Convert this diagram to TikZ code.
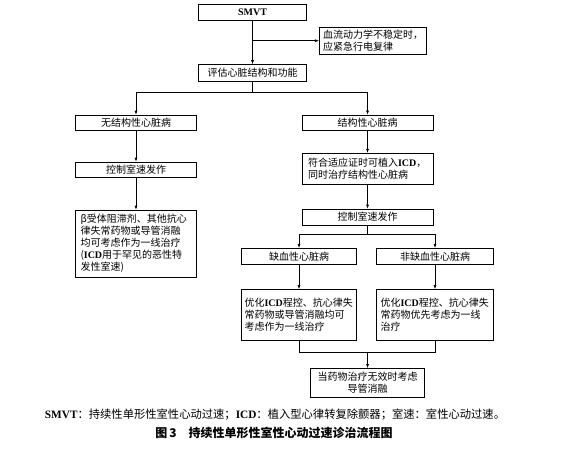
\documentclass[tikz,border=0pt]{standalone}
\usepackage{fontspec}
\setmainfont{Liberation Serif}
\newfontfamily\cjk{Noto Sans CJK SC}
\newfontfamily\lat{Liberation Serif}
\usetikzlibrary{arrows.meta}
\newcommand\en[1]{{\lat\bfseries #1}}

\begin{document}
\begin{tikzpicture}[
  x=1pt,
  y=-1pt,
  flowtip/.tip={Latex[length=4pt,width=3pt]},
  flowbox/.style={
    draw,
    line width=0.6pt,
    inner sep=0pt,
    font=\cjk\fontsize{10}{12}\selectfont
  },
  link/.style={line width=0.6pt}
]
  \useasboundingbox (0,0) rectangle (580,451);

  \node[flowbox,minimum width=108,minimum height=15.5] (smvt) at (252.5,12.5) {\en{SMVT}};
  \node[flowbox,minimum width=107.5,minimum height=27,text width=100,align=left] (hemo) at (373,40.7)
    {血流动力学不稳定时，\\应紧急行电复律};
  \node[flowbox,minimum width=108,minimum height=17] (eval) at (252.5,73) {评估心脏结构和功能};

  \node[flowbox,minimum width=121,minimum height=15] (nostruct) at (136,122.5) {无结构性心脏病};
  \node[flowbox,minimum width=121,minimum height=15] (ctrlL) at (136,169.5) {控制室速发作};
  \node[flowbox,minimum width=121,minimum height=67,text width=111,align=left] (betaL) at (136,243.5)
    {β受体阻滞剂、其他抗心\\律失常药物或导管消融\\均可考虑作为一线治疗\\(\en{ICD}用于罕见的恶性特\\发性室速)};

  \node[flowbox,minimum width=131,minimum height=15] (struct) at (367.5,122.5) {结构性心脏病};
  \node[flowbox,minimum width=131,minimum height=31,text width=119,align=left] (icd) at (367.5,168.7)
    {符合适应证时可植入\en{ICD}，\\同时治疗结构性心脏病};
  \node[flowbox,minimum width=131,minimum height=16] (ctrlR) at (367.5,217) {控制室速发作};

  \node[flowbox,minimum width=115,minimum height=16] (isch) at (299,256.3) {缺血性心脏病};
  \node[flowbox,minimum width=116.6,minimum height=16] (nonisch) at (435,256.3) {非缺血性心脏病};
  \node[flowbox,minimum width=115,minimum height=51,text width=109,align=left] (optL) at (299,315)
    {优化\en{ICD}程控、抗心律失\\常药物或导管消融均可\\考虑作为一线治疗};
  \node[flowbox,minimum width=116.6,minimum height=51,text width=109,align=left] (optR) at (435,315)
    {优化\en{ICD}程控、抗心律失\\常药物优先考虑为一线\\治疗};
  \node[flowbox,minimum width=114,minimum height=29,align=center] (final) at (367.5,383)
    {当药物治疗无效时考虑\\导管消融};

  \coordinate (fork1) at (252.5,92.7);
  \coordinate (fork2) at (367.5,234);
  \coordinate (join) at (367.5,352.7);

  \foreach \a/\b in {smvt/eval,nostruct/ctrlL,ctrlL/betaL,struct/icd,icd/ctrlR,isch/optL,nonisch/optR,join/final}
    \draw[link,-flowtip] (\a) -- (\b);
  \draw[link,-flowtip] (smvt.south |- hemo.west) -- (hemo.west);
  \draw[link] (eval) -- (fork1);
  \draw[link,-flowtip] (fork1) -| (nostruct);
  \draw[link,-flowtip] (fork1) -| (struct);
  \draw[link] (ctrlR) -- (fork2);
  \draw[link,-flowtip] (fork2) -| (isch);
  \draw[link,-flowtip] (fork2) -| (nonisch);
  \draw[link] (optL) |- (join) -| (optR);

  \node[font=\cjk\fontsize{11.3}{13}\selectfont] (note) at (275,415)
    {\en{SMVT}：持续性单形性室性心动过速；\en{ICD}：植入型心律转复除颤器；室速：室性心动过速。};
  \node[font=\cjk\bfseries\fontsize{12}{14}\selectfont] (title) at (274,433)
    {图\,3\quad 持续性单形性室性心动过速诊治流程图};
\end{tikzpicture}
\end{document}
